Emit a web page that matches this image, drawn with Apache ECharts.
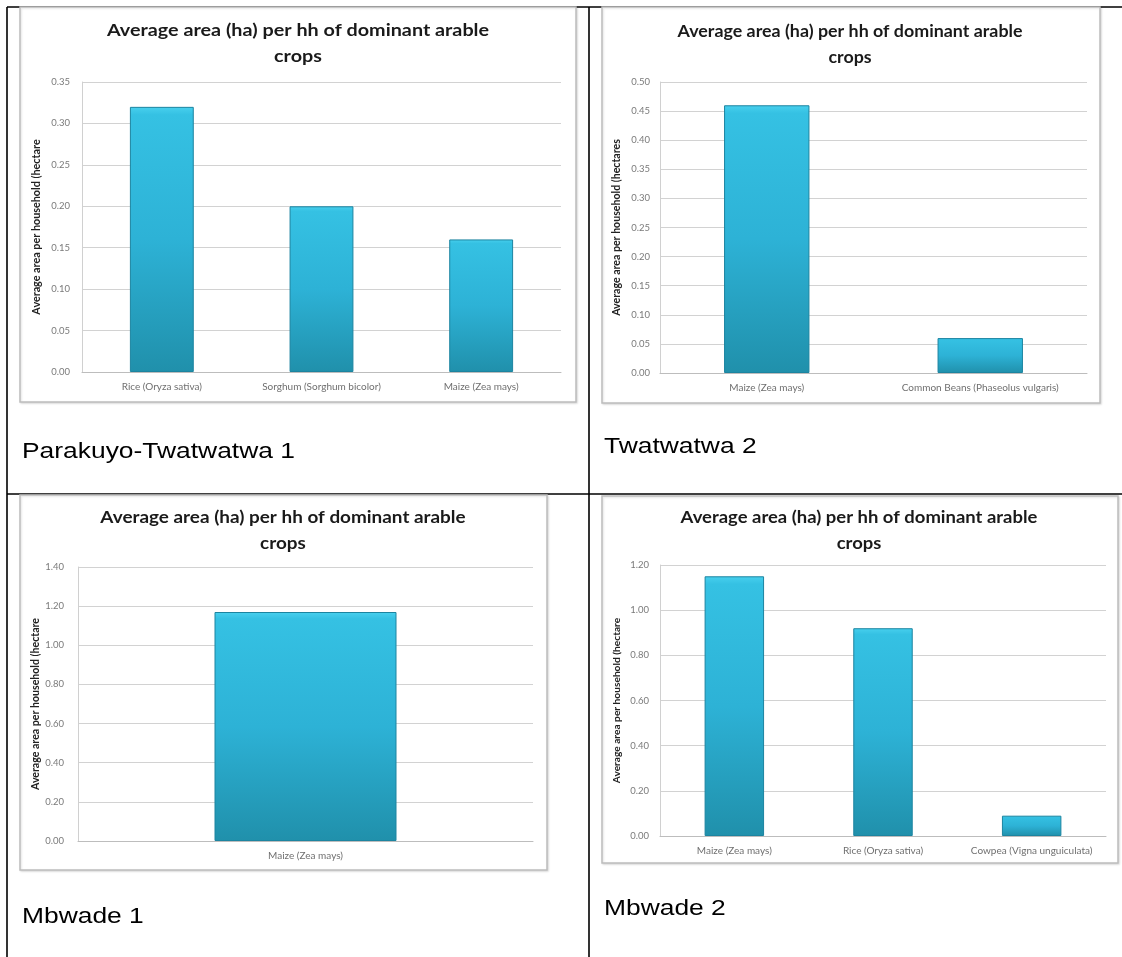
<!DOCTYPE html>
<html>
<head>
<meta charset="utf-8">
<title>Average area (ha) per hh of dominant arable crops</title>
<script src="https://cdn.jsdelivr.net/npm/echarts@6/dist/echarts.min.js"></script>
<style>
  html, body { margin: 0; padding: 0; background: #ffffff; }
  #chart { width: 1122px; height: 957px; }
</style>
</head>
<body>
<div id="chart"></div>
<script>
// Crop areas per village (hectares per household)
const parakuyoCrops = ['Rice (Oryza sativa)', 'Sorghum (Sorghum bicolor)', 'Maize (Zea mays)'];
const parakuyoArea = [0.32, 0.20, 0.16];

const twatwatwaCrops = ['Maize (Zea mays)', 'Common Beans (Phaseolus vulgaris)'];
const twatwatwaArea = [0.46, 0.06];

const mbwade1Crops = ['Maize (Zea mays)'];
const mbwade1Area = [1.17];

const mbwade2Crops = ['Maize (Zea mays)', 'Rice (Oryza sativa)', 'Cowpea (Vigna unguiculata)'];
const mbwade2Area = [1.15, 0.92, 0.09];

// Value-axis ranges for each panel
const axisMax = [0.35, 0.50, 1.40, 1.20];
const axisStep = [0.05, 0.05, 0.20, 0.20];

const villageNames = ['Parakuyo-Twatwatwa 1', 'Twatwatwa 2', 'Mbwade 1', 'Mbwade 2'];
const chartTitle = 'Average area (ha) per hh of dominant arable\ncrops';
const axisTitles = [
  'Average area per household (hectare',
  'Average area per household (hectares',
  'Average area per household (hectare',
  'Average area per household (hectare'
];

const panels = [
  { crops: parakuyoCrops, area: parakuyoArea },
  { crops: twatwatwaCrops, area: twatwatwaArea },
  { crops: mbwade1Crops, area: mbwade1Area },
  { crops: mbwade2Crops, area: mbwade2Area }
];

// Layout of each panel: plot area, framed chart box, title and caption
const layout = [
  { grid: { left: 82, top: 82, width: 479, height: 290 }, box: [20, 7, 556, 395], titleX: 298, titleY: 17, titleScale: 1.13, nameGap: 40, nameSize: 10.8, labelMargin: 12, caption: [22, 452] },
  { grid: { left: 660, top: 82, width: 427, height: 291 }, box: [602, 7, 498, 396], titleX: 850, titleY: 18, titleScale: 1.02, nameGap: 38, nameSize: 10.6, labelMargin: 10, caption: [604, 447] },
  { grid: { left: 78, top: 567, width: 455, height: 274 }, box: [20, 495, 527, 375], titleX: 283, titleY: 504, titleScale: 1.08, nameGap: 36, nameSize: 10.6, labelMargin: 14, caption: [22, 917] },
  { grid: { left: 660, top: 565, width: 446, height: 271 }, box: [602, 496, 516, 367], titleX: 859, titleY: 504, titleScale: 1.055, nameGap: 38, nameSize: 10.2, labelMargin: 11, caption: [604, 909] }
];

const barColor = {
  type: 'linear', x: 0, y: 0, x2: 0, y2: 1,
  colorStops: [
    { offset: 0, color: '#48d0ee' },
    { offset: 0.03, color: '#35c1e3' },
    { offset: 0.5, color: '#2db2d6' },
    { offset: 1, color: '#2090ab' }
  ]
};

const chart = echarts.init(document.getElementById('chart'), null, { renderer: 'canvas' });

const grids = [], xAxes = [], yAxes = [], series = [], graphics = [];

// Table rules framing the four panels
const rule = { stroke: '#000000', lineWidth: 1.6 };
graphics.push(
  { type: 'line', z: -20, shape: { x1: 7, y1: 7, x2: 1122, y2: 7 }, style: rule },
  { type: 'line', z: -20, shape: { x1: 7, y1: 7, x2: 7, y2: 957 }, style: rule },
  { type: 'line', z: -20, shape: { x1: 589, y1: 7, x2: 589, y2: 957 }, style: rule },
  { type: 'line', z: -20, shape: { x1: 7, y1: 494, x2: 1122, y2: 494 }, style: rule }
);

panels.forEach((p, i) => {
  const L = layout[i];

  // white chart frame, drawn beneath the axes
  graphics.push({
    type: 'rect', z: -10,
    shape: { x: L.box[0], y: L.box[1], width: L.box[2], height: L.box[3] },
    style: {
      fill: '#ffffff', stroke: '#bdbdbd', lineWidth: 1.5,
      shadowColor: 'rgba(0,0,0,0.12)', shadowBlur: 2, shadowOffsetX: 1, shadowOffsetY: 1
    }
  });

  // chart heading
  graphics.push({
    type: 'text', z: 5,
    x: L.titleX, y: L.titleY,
    scaleX: L.titleScale, originX: 0,
    style: {
      text: chartTitle,
      fontFamily: 'Lato, sans-serif',
      fontWeight: 'bold',
      fontSize: 17.5,
      lineHeight: 26,
      fill: '#1a1a1a',
      align: 'center',
      verticalAlign: 'top'
    }
  });

  // village caption below each chart
  graphics.push({
    type: 'text', z: 5,
    x: L.caption[0], y: L.caption[1],
    scaleX: 1.2, originX: 0,
    style: {
      text: villageNames[i],
      fontFamily: 'Liberation Sans, Arial, sans-serif',
      fontSize: 22,
      fill: '#000000',
      verticalAlign: 'middle'
    }
  });

  grids.push(Object.assign({ containLabel: false }, L.grid));

  xAxes.push({
    type: 'category',
    gridIndex: i,
    data: p.crops,
    axisLine: { lineStyle: { color: '#bdbdbd', width: 1 } },
    axisTick: { show: false },
    axisLabel: {
      margin: 10,
      fontFamily: 'Lato, sans-serif',
      fontSize: 10,
      color: '#6f6f6f',
      interval: 0
    }
  });

  yAxes.push({
    type: 'value',
    gridIndex: i,
    min: 0,
    max: axisMax[i],
    interval: axisStep[i],
    name: axisTitles[i],
    nameLocation: 'middle',
    nameRotate: 90,
    nameGap: L.nameGap,
    nameTextStyle: {
      fontFamily: 'Lato, sans-serif',
      fontWeight: 'bold',
      fontSize: L.nameSize,
      color: '#222222'
    },
    axisLine: { show: true, lineStyle: { color: '#d0d0d0', width: 1 } },
    axisTick: { show: false },
    splitLine: { lineStyle: { color: '#d2d2d2', width: 1 } },
    axisLabel: {
      margin: L.labelMargin,
      fontFamily: 'Lato, sans-serif',
      fontSize: 9.5,
      color: '#7a7a7a',
      formatter: v => v.toFixed(2)
    }
  });

  series.push({
    type: 'bar',
    xAxisIndex: i,
    yAxisIndex: i,
    data: p.area,
    barWidth: '40%',
    itemStyle: {
      color: barColor,
      borderColor: '#1c84a0',
      borderWidth: 1
    },
    emphasis: { disabled: true },
    z: 3
  });
});

chart.setOption({
  animation: false,
  backgroundColor: '#ffffff',
  grid: grids,
  xAxis: xAxes,
  yAxis: yAxes,
  series: series,
  graphic: { elements: graphics }
});
</script>
</body>
</html>
